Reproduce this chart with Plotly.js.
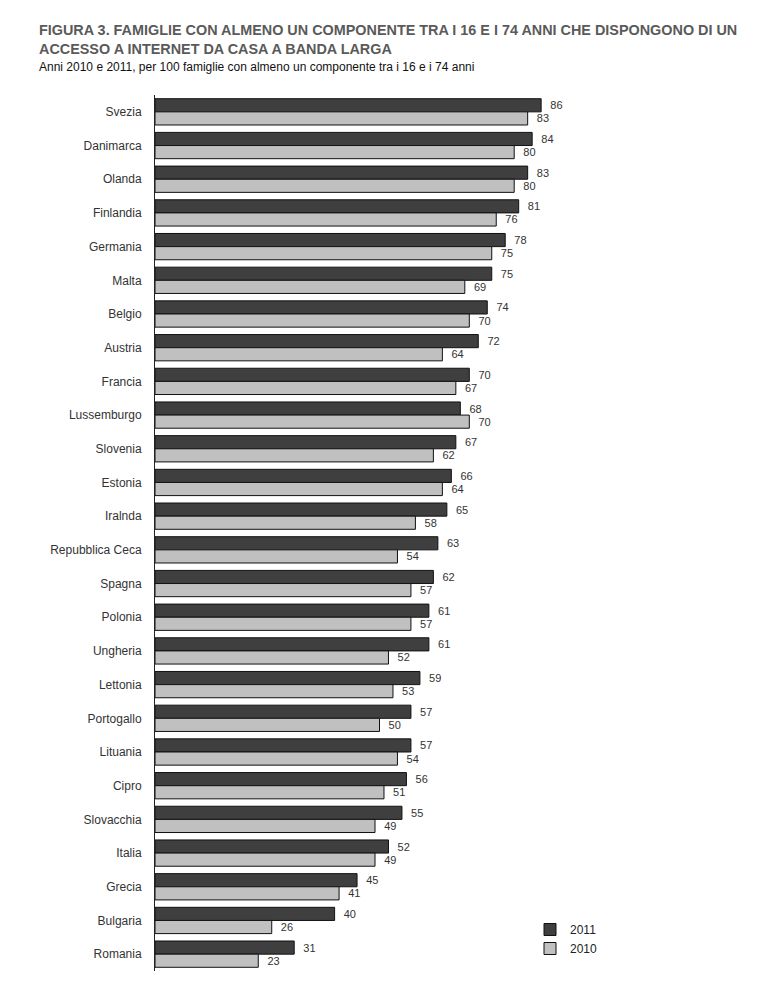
<!DOCTYPE html>
<html>
<head>
<meta charset="utf-8">
<script src="https://cdn.plot.ly/plotly-3.0.1.min.js"></script>
<style>
  html, body { margin: 0; padding: 0; background: #ffffff; }
  #chart { width: 767px; height: 987px; }
</style>
</head>
<body>
<div id="chart"></div>
<script>
// Paesi UE, ordinati per quota 2011
const paesi = [
  "Svezia", "Danimarca", "Olanda", "Finlandia", "Germania", "Malta", "Belgio",
  "Austria", "Francia", "Lussemburgo", "Slovenia", "Estonia", "Iralnda",
  "Repubblica Ceca", "Spagna", "Polonia", "Ungheria", "Lettonia", "Portogallo",
  "Lituania", "Cipro", "Slovacchia", "Italia", "Grecia", "Bulgaria", "Romania"
];
const valori2011 = [86, 84, 83, 81, 78, 75, 74, 72, 70, 68, 67, 66, 65, 63, 62, 61, 61, 59, 57, 57, 56, 55, 52, 45, 40, 31];
const valori2010 = [83, 80, 80, 76, 75, 69, 70, 64, 67, 70, 62, 64, 58, 54, 57, 57, 52, 53, 50, 54, 51, 49, 49, 41, 26, 23];

const titolo1 = "FIGURA 3. FAMIGLIE CON ALMENO UN COMPONENTE TRA I 16 E I 74 ANNI CHE DISPONGONO DI UN";
const titolo2 = "ACCESSO A INTERNET DA CASA A BANDA LARGA";
const sottotitolo = "Anni 2010 e 2011, per 100 famiglie con almeno un componente tra i 16 e i 74 anni";

const FONT = '"Liberation Sans Narrow", "Arial Narrow", "Liberation Sans", Arial, sans-serif';

const W = 767, H = 987;
const margin = { l: 155, r: 163, t: 95, b: 16 };
const plotW = W - margin.l - margin.r;
const plotH = H - margin.t - margin.b;
// convert page pixels to paper coordinates
const px = x => (x - margin.l) / plotW;
const py = y => 1 - (y - margin.t) / plotH;

function serie(nome, valori, colore) {
  return {
    type: "bar",
    orientation: "h",
    name: nome,
    y: paesi,
    x: valori,
    marker: { color: colore, line: { color: "#111111", width: 1 } },
    text: valori.map(v => String(v)),
    texttemplate: "  %{text}",
    textposition: "outside",
    cliponaxis: false,
    textfont: { family: FONT, size: 11, color: "#333333" },
    hoverinfo: "skip"
  };
}

const data = [
  serie("2011", valori2011, "#3f3f3f"),
  serie("2010", valori2010, "#c0c0c0")
];

const layout = {
  width: W,
  height: H,
  margin: margin,
  paper_bgcolor: "#ffffff",
  plot_bgcolor: "#ffffff",
  barmode: "group",
  bargap: 0.22,
  bargroupgap: 0,
  showlegend: true,
  legend: {
    x: px(530), y: py(915), xanchor: "left", yanchor: "top",
    font: { family: FONT, size: 12, color: "#222222" },
    itemwidth: 30,
    tracegroupgap: 0,
    bgcolor: "rgba(0,0,0,0)"
  },
  xaxis: {
    range: [0, 100],
    showgrid: false,
    zeroline: false,
    showline: false,
    showticklabels: false,
    ticks: "",
    fixedrange: true
  },
  yaxis: {
    type: "category",
    autorange: "reversed",
    showgrid: false,
    zeroline: false,
    showline: true,
    linecolor: "#222222",
    linewidth: 1,
    ticks: "outside",
    ticklen: 10,
    tickcolor: "rgba(0,0,0,0)",
    tickfont: { family: FONT, size: 12, color: "#333333" },
    fixedrange: true
  },
  annotations: [
    {
      xref: "paper", yref: "paper", x: px(37), y: py(30),
      xanchor: "left", yanchor: "middle", showarrow: false,
      text: "<b>" + titolo1 + "</b>",
      font: { family: FONT, size: 14.4, color: "#5a5a5a" }
    },
    {
      xref: "paper", yref: "paper", x: px(37), y: py(49),
      xanchor: "left", yanchor: "middle", showarrow: false,
      text: "<b>" + titolo2 + "</b>",
      font: { family: FONT, size: 14.4, color: "#5a5a5a" }
    },
    {
      xref: "paper", yref: "paper", x: px(37), y: py(67),
      xanchor: "left", yanchor: "middle", showarrow: false,
      text: sottotitolo,
      font: { family: FONT, size: 12, color: "#111111" }
    }
  ]
};

Plotly.newPlot("chart", data, layout, { staticPlot: true, displayModeBar: false });
</script>
</body>
</html>
